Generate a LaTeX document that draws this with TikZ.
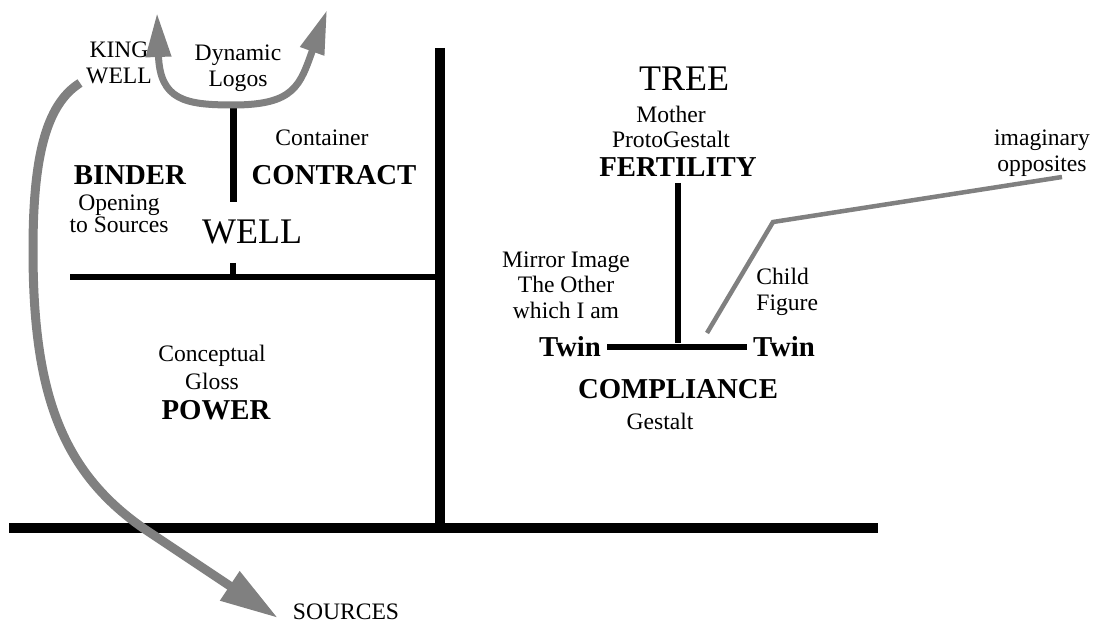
\documentclass[tikz,border=0pt]{standalone}
\usepackage{fontspec}
\setmainfont{Liberation Serif}
\usetikzlibrary{arrows.meta}

\tikzset{
  smalltxt/.style = {inner sep=0pt, align=center, font=\fontsize{11.8}{12.8}\selectfont},
  boldtxt/.style  = {inner sep=0pt, font=\fontsize{14.4}{16}\selectfont\bfseries},
  bigtxt/.style   = {inner sep=0pt, font=\fontsize{18}{20}\selectfont},
  beam/.style     = {line width=5pt},
  limb/.style     = {line width=3pt},
  stream/.style   = {draw=gray, line width=4.5pt, -{Triangle[length=29pt, width=16.5pt]}},
  logosarrow/.style = {draw=gray, line width=3.5pt,
    {Triangle[length=22pt, width=12pt]}-{Triangle[length=22pt, width=12pt]}},
}

\begin{document}
\begin{tikzpicture}[x = {(0.5pt,0pt)},
  y = {(0pt,-0.5pt)}]

  \useasboundingbox (0,0) rectangle (1097,624);

  % frame
  \draw[beam] (9,528) -- (878,528);
  \draw[beam] (440,48) -- (440,528);
  \draw[limb] (70,277) -- (440,277);
  \draw[line width=3.5pt] (233,107) -- (233,202);
  \draw[limb] (233,263) -- (233,277);

  % well quarter
  \node[smalltxt] (kingwell)  at (119,63)  {KING\\WELL};
  \node[smalltxt] (logos)     at (238,68)  {Dynamic\\Logos};
  \node[smalltxt] (container) at (322,138) {Container};
  \node[boldtxt]  (contract)  at (334,175) {CONTRACT};
  \node[boldtxt]  (binder)    at (130,175) {BINDER};
  \node[smalltxt, font=\fontsize{11.8}{11}\selectfont] (opening) at (119,214) {Opening\\to Sources};
  \node[bigtxt]   (well)      at (252,232) {WELL};

  % power quarter
  \node[smalltxt, font=\fontsize{11.8}{14}\selectfont] (gloss) at (212,367) {Conceptual\\Gloss};
  \node[boldtxt]  (power)     at (216,410) {POWER};
  \node[smalltxt] (sources)   at (346,612) {SOURCES};

  % tree
  \node[bigtxt]   (tree)      at (684,79)  {TREE};
  \node[smalltxt] (mother)    at (671,127) {Mother\\ProtoGestalt};
  \node[boldtxt]  (fertility) at (678,167) {FERTILITY};
  \node[smalltxt] (mirror)    at (566,285) {Mirror Image\\The Other\\which I am};
  \node[smalltxt, align=left, anchor=west] (child) at (756,292) {Child\\Figure};
  \node[boldtxt, inner xsep=3pt] (twinleft)  at (570,347) {Twin};
  \node[boldtxt, inner xsep=3pt] (twinright) at (784,347) {Twin};
  \node[boldtxt]  (compliance) at (678,389) {COMPLIANCE};
  \node[smalltxt] (gestalt)   at (660,421) {Gestalt};
  \node[smalltxt] (opposites) at (1042,153) {imaginary\\opposites};

  \coordinate (fork) at (678,343);
  \draw[limb] (678,183) -- (fork);
  \draw[limb] (twinleft.east) -- (twinright.west);

  % grey paths
  \coordinate (kingfoot) at (80,83);
  \coordinate (sourcetip) at (278,618);
  \draw[draw=gray, line width=2.25pt] (707,333) -- (773,222) -- (1062,177);
  \draw[logosarrow] (157,13) .. controls (160,100) and (185,105) .. (233,105)
    .. controls (295,105) and (300,85) .. (327,10);
  \draw[stream] (kingfoot) .. controls (45,105) and (33,160) .. (33,250)
    .. controls (33,390) and (60,470) .. (143,528) -- (sourcetip);

\end{tikzpicture}
\end{document}
